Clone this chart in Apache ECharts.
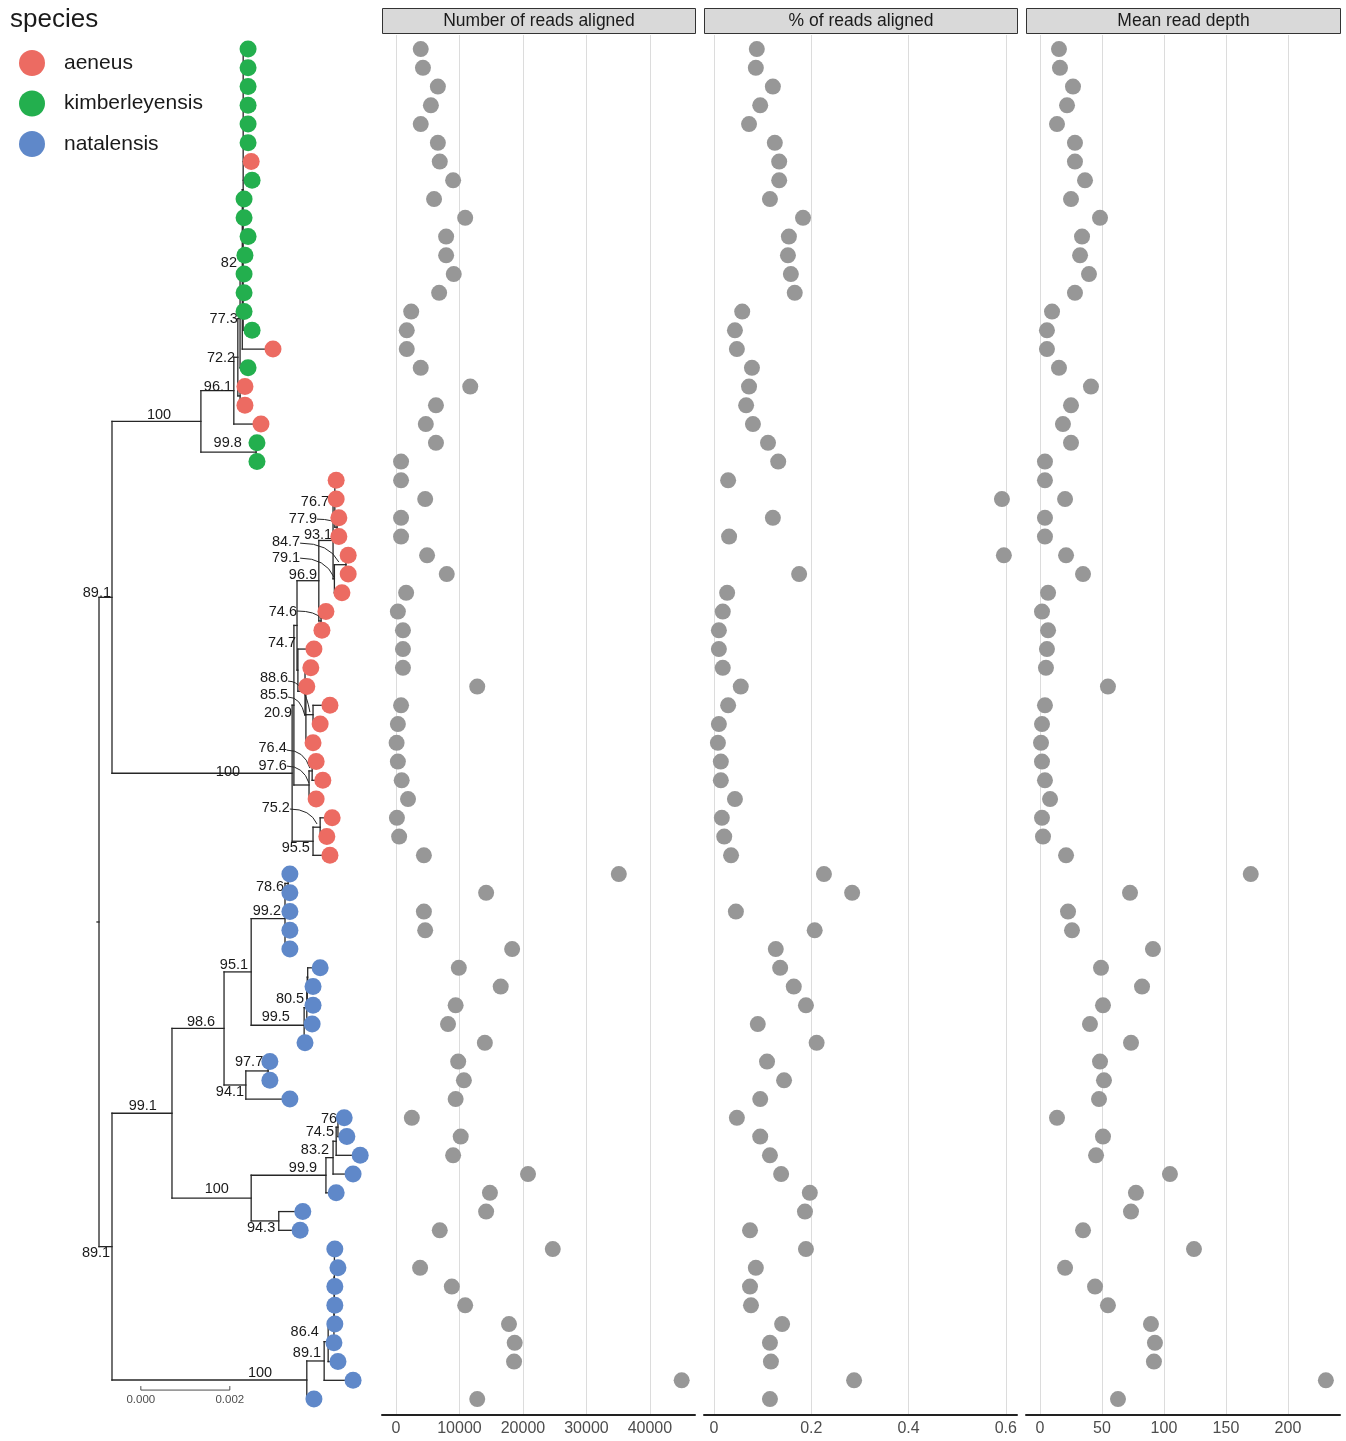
<!DOCTYPE html>
<html>
<head>
<meta charset="UTF-8">
<title>reads aligned per sample</title>
<script src="https://cdn.jsdelivr.net/npm/echarts@6/dist/echarts.min.js"></script>
<style>
  body { margin: 0; background: #fff; }
  #main { width: 1346px; height: 1441px; }
</style>
</head>
<body>
<div id="main"></div>
<script>
var FONT = '"Liberation Sans", Arial, sans-serif';

var species = ['aeneus', 'kimberleyensis', 'natalensis'];
var speciesColor = ['#EC6B62', '#23AF4E', '#5F88C9'];

// tips, top to bottom: species index
var tipSpecies = [1,1,1,1,1,1,0,1,1,1, 1,1,1,1,1,1,0,1,0,0, 0,1,1,
  0,0,0,0,0,0,0,0,0,0, 0,0,0,0,0,0,0,0,0,0, 0,
  2,2,2,2,2,2,2,2,2,2, 2,2,2,2,2,2,2,2,2,2, 2,2,2,2,2,2,2,2,2];

// distance from root, in 1e-4 substitutions/site
var tipDepth = [33.5,33.5,33.5,33.5,33.5,33.5,34.2,34.4,32.6,32.6,
  33.5,32.8,32.6,32.6,32.6,34.4,39.1,33.5,32.8,32.8,
  36.4,35.5,35.5,53.3,53.3,53.9,53.9,56.0,56.0,54.6,
  51.0,50.1,48.3,47.6,46.7,51.9,49.7,48.1,48.8,50.3,
  48.8,52.4,51.2,51.9,42.9,42.9,42.9,42.9,42.9,49.7,
  48.1,48.1,47.9,46.3,38.4,38.4,42.9,55.1,55.7,58.7,
  57.1,53.3,45.8,45.2,53.0,53.7,53.0,53.0,53.0,52.8,
  53.7,57.1,48.3];

// internal nodes: [name, depth, children]  (numbers = tips, strings = nodes)
var treeNodes = [
  ['Cg', 32.4, [0,1,2,3,4,5,6,7,8,9,10,11,12,13,14,15]],
  ['n82', 32.2, ['Cg', 16]],
  ['n77.3', 31.7, ['n82', 17]],
  ['nY', 31.7, [18, 19]],
  ['n72.2', 31.2, ['n77.3', 'nY']],
  ['n96.1', 30.3, ['n72.2', 20]],
  ['n99.8', 35.3, [21, 22]],
  ['n100a', 22.9, ['n96.1', 'n99.8']],
  ['n77.9', 53.5, [25, 26]],
  ['n76.7', 53.0, [23, 24, 'n77.9']],
  ['n84.7', 55.5, [27, 28]],
  ['n79.1', 52.9, ['n84.7', 29]],
  ['n93.1', 52.6, ['n76.7', 'n79.1']],
  ['n74.6', 49.9, [30, 31]],
  ['n96.9', 49.4, ['n93.1', 'n74.6']],
  ['n88.6', 48.1, [35, 36]],
  ['n85.5', 46.5, [34, 'n88.6', 37]],
  ['n20.9', 46.3, [33, 'n85.5']],
  ['nU', 44.7, [32, 'n20.9']],
  ['n74.7', 44.5, ['n96.9', 'nU']],
  ['n76.4', 47.9, [38, 39]],
  ['n97.6', 47.2, ['n76.4', 40]],
  ['nW', 43.8, ['n74.7', 'n97.6']],
  ['n75.2', 49.7, [41, 42]],
  ['n95.5', 48.1, ['n75.2', 43]],
  ['n100red', 43.4, ['nW', 'n95.5']],
  ['n78.6', 42.5, [44, 45]],
  ['n99.2', 41.8, ['n78.6', 46, 47, 48]],
  ['nC', 46.9, [49, 50]],
  ['nB', 46.8, ['nC', 51]],
  ['n80.5', 46.7, ['nB', 52]],
  ['n99.5', 46.1, ['n80.5', 53]],
  ['n95.1', 34.2, ['n99.2', 'n99.5']],
  ['n97.7', 38.0, [54, 55]],
  ['n94.1', 33.0, ['n97.7', 56]],
  ['n98.6', 28.1, ['n95.1', 'n94.1']],
  ['n76', 53.7, [57, 58]],
  ['n74.5', 53.3, ['n76', 59]],
  ['n83.2', 52.6, ['n74.5', 60]],
  ['n99.9', 51.0, ['n83.2', 61]],
  ['n94.3', 40.4, [62, 63]],
  ['n100b', 34.2, ['n99.9', 'n94.3']],
  ['n99.1', 16.4, ['n98.6', 'n100b']],
  ['L4', 52.9, [64, 65, 66, 67]],
  ['L3', 52.85, ['L4', 68]],
  ['L2', 52.8, ['L3', 69]],
  ['L1', 51.5, ['L2', 70]],
  ['n86.4', 50.6, ['L1', 71]],
  ['n89.1b', 46.7, ['n86.4', 72]],
  ['nBot', 2.92, ['n99.1', 'n89.1b']],
  ['nTop', 2.92, ['n100a', 'n100red']],
  ['root', 0, ['nTop', 'nBot']]
];

// bootstrap labels: [text, right end (depth), row]
var bootLabels = [
  ['82', 31.0, 11.41], ['77.3', 31.2, 14.4], ['72.2', 30.6, 16.48], ['96.1', 29.9, 18.03],
  ['100', 16.2, 19.52], ['99.8', 32.1, 21.01], ['89.1', 2.7, 29.01], ['100', 31.7, 38.56],
  ['76.7', 51.7, 24.16], ['77.9', 49.0, 25.07], ['93.1', 52.4, 25.92], ['84.7', 45.2, 26.29],
  ['79.1', 45.2, 27.15], ['96.9', 49.0, 28.05], ['74.6', 44.5, 30.03], ['74.7', 44.3, 31.68],
  ['88.6', 42.5, 33.55], ['85.5', 42.5, 34.45], ['20.9', 43.4, 35.41], ['76.4', 42.2, 37.28],
  ['97.6', 42.2, 38.24], ['75.2', 42.9, 40.48], ['95.5', 47.4, 42.61], ['78.6', 41.6, 44.69],
  ['99.2', 40.9, 45.97], ['95.1', 33.5, 48.85], ['80.5', 46.1, 50.67], ['99.5', 42.9, 51.63],
  ['98.6', 26.1, 51.89], ['97.7', 36.9, 54.03], ['94.1', 32.6, 55.63], ['99.1', 13.0, 56.37],
  ['76', 53.5, 57.07], ['74.5', 52.8, 57.76], ['83.2', 51.7, 58.72], ['99.9', 49.0, 59.68],
  ['100', 29.2, 60.8], ['94.3', 39.6, 62.88], ['89.1', 2.5, 64.21], ['86.4', 49.4, 68.43],
  ['89.1', 49.9, 69.55], ['100', 38.9, 70.61]
];

// leader curves from label to node: [x1, y1, x2, y2]
var leaders = [
  [49.0, 25.07, 53.9, 25.39], [45.2, 26.35, 53.9, 27.36], [45.2, 27.15, 52.8, 28.16],
  [44.5, 29.97, 50.1, 30.4], [42.5, 33.71, 47.4, 35.36], [42.5, 34.56, 46.3, 35.57],
  [42.2, 37.39, 47.4, 38.35], [42.2, 38.24, 47.2, 39.15], [42.9, 40.53, 49.0, 41.33]
];

var scaleBarFrom = 9.4, scaleBarLen = 20, scaleBarRow = 71.52;
var scaleBarLabels = ['0.000', '0.002'];

var readsAligned = [3900,4250,6600,5500,3900,6600,6900,9000,6000,10900,
  7900,7900,9100,6800,2400,1700,1700,3900,11700,6300,
  4700,6300,800,800,4600,800,800,4900,8000,1600,
  300,1100,1100,1100,12800,800,300,100,300,900,
  1900,150,500,4400,35100,14200,4400,4600,18300,9900,
  16500,9400,8200,14000,9800,10700,9400,2500,10200,9000,
  20800,14800,14200,6900,24700,3800,8800,10900,17800,18700,
  18600,45000,12800];

var pctAligned = [0.088,0.086,0.121,0.095,0.072,0.125,0.134,0.134,0.115,0.183,
  0.154,0.152,0.158,0.166,0.058,0.043,0.047,0.078,0.072,0.066,
  0.080,0.111,0.132,0.029,0.592,0.121,0.031,0.596,0.175,0.027,
  0.018,0.010,0.010,0.018,0.055,0.029,0.010,0.008,0.014,0.014,
  0.043,0.016,0.021,0.035,0.226,0.284,0.045,0.207,0.127,0.136,
  0.164,0.189,0.090,0.211,0.109,0.144,0.095,0.047,0.095,0.115,
  0.138,0.197,0.187,0.074,0.189,0.086,0.074,0.076,0.140,0.115,
  0.117,0.288,0.115];

var meanDepth = [15.3,16.1,26.6,21.8,13.7,28.2,28.2,36.3,25,48.4,
  33.9,32.3,39.5,28.2,9.7,5.6,5.6,15.3,41.1,25,
  18.5,25,4,4,20.2,4,4,21,34.7,6.5,
  1.6,6.5,5.6,4.8,54.8,4,1.6,0.8,1.6,4,
  8.1,1.6,2.4,21,170,72.6,22.6,25.8,91.1,49.2,
  82.3,50.8,40.3,73.4,48.4,51.6,47.6,13.7,50.8,45.2,
  104.8,77.4,73.4,34.7,124.2,20.2,44.4,54.8,89.5,92.7,
  91.9,230.6,62.9];

var facetTitles = ['Number of reads aligned', '% of reads aligned', 'Mean read depth'];
var facetData = [readsAligned, pctAligned, meanDepth];

// ---- layout ----
var plotTop = 35, plotH = 1380;
var rowMin = -0.75, rowMax = 72.85;
var facetLeft = [382, 704, 1026], facetWidth = [313, 313, 314];
var facetMin = [-2200, -0.0206, -11.3], facetMax = [47100, 0.623, 242];
var facetSplit = [5, 3, 5];

// ---- tree layout ----
var nodeMap = {};
treeNodes.forEach(function (n) { nodeMap[n[0]] = { depth: n[1], children: n[2] }; });
var yMemo = {};
function yOf(c) {
  if (typeof c === 'number') return c;
  if (yMemo[c] !== undefined) return yMemo[c];
  var ch = nodeMap[c].children, s = 0;
  ch.forEach(function (k) { s += yOf(k); });
  yMemo[c] = s / ch.length;
  return yMemo[c];
}
function depthOf(c) { return typeof c === 'number' ? tipDepth[c] : nodeMap[c].depth; }

var segments = [];
treeNodes.forEach(function (n) {
  var d = n[1], ys = n[2].map(yOf);
  segments.push([d, Math.min.apply(null, ys), d, Math.max.apply(null, ys)]);
  n[2].forEach(function (c) { segments.push([d, yOf(c), depthOf(c), yOf(c)]); });
});
segments.push([-0.45, yOf('root'), 0, yOf('root')]);

var tipSeries = species.map(function (sp, si) {
  var pts = [];
  tipSpecies.forEach(function (s, i) { if (s === si) pts.push([tipDepth[i], i]); });
  return {
    name: sp, type: 'scatter', xAxisIndex: 0, yAxisIndex: 0,
    symbolSize: 17, itemStyle: { color: speciesColor[si], opacity: 1 },
    data: pts, z: 5, silent: true
  };
});

var grids = [{ left: 0, top: plotTop, width: 380, height: plotH }];
var xAxes = [{ gridIndex: 0, type: 'value', min: -22.25, max: 63.15, show: false }];
var yAxes = [{ gridIndex: 0, type: 'value', min: rowMin, max: rowMax, inverse: true, show: false }];
var facetSeries = [];
var graphics = [];

facetTitles.forEach(function (t, i) {
  grids.push({ left: facetLeft[i], top: plotTop, width: facetWidth[i], height: plotH });
  xAxes.push({
    gridIndex: i + 1, type: 'value', min: facetMin[i], max: facetMax[i], splitNumber: facetSplit[i],
    axisLine: { show: true, onZero: false, lineStyle: { color: '#222', width: 2 } },
    axisTick: { show: false },
    axisLabel: {
      color: '#4d4d4d', fontSize: 16, fontFamily: FONT, margin: 6,
      showMinLabel: false, showMaxLabel: false,
      formatter: function (v) { return String(+v.toFixed(4)); }
    },
    splitLine: { show: true, showMinLine: false, showMaxLine: false, lineStyle: { color: '#dcdcdc', width: 1 } }
  });
  yAxes.push({ gridIndex: i + 1, type: 'value', min: rowMin, max: rowMax, inverse: true, show: false });
  facetSeries.push({
    type: 'scatter', xAxisIndex: i + 1, yAxisIndex: i + 1, symbolSize: 16, silent: true,
    itemStyle: { color: '#979797', opacity: 1 },
    data: facetData[i].map(function (v, r) { return [v, r]; })
  });
  graphics.push({
    type: 'group', left: facetLeft[i], top: 8,
    children: [
      { type: 'rect', shape: { x: 0, y: 0, width: facetWidth[i], height: 25 },
        style: { fill: '#d9d9d9', stroke: '#333', lineWidth: 1 } },
      { type: 'text', x: facetWidth[i] / 2, y: 13,
        style: { text: t, fill: '#1a1a1a', font: '17.5px ' + FONT, align: 'center', verticalAlign: 'middle' } }
    ]
  });
});

var myChart = echarts.init(document.getElementById('main'));
myChart.setOption({
  animation: false,
  backgroundColor: '#fff',
  title: { text: 'species', left: 5, top: 2, textStyle: { fontSize: 26, fontWeight: 'normal', color: '#1a1a1a', fontFamily: FONT } },
  legend: {
    data: species, orient: 'vertical', left: 14, top: 45, icon: 'circle',
    itemWidth: 26, itemHeight: 26, itemGap: 14.5, selectedMode: false,
    textStyle: { fontSize: 21, color: '#1a1a1a', fontFamily: FONT, padding: [0, 0, 0, 14] }
  },
  grid: grids,
  xAxis: xAxes,
  yAxis: yAxes,
  graphic: graphics,
  series: [
    {
      type: 'custom', xAxisIndex: 0, yAxisIndex: 0, silent: true, z: 2,
      encode: { x: [0, 2], y: [1, 3] },
      data: segments,
      renderItem: function (params, api) {
        var a = api.coord([api.value(0), api.value(1)]);
        var b = api.coord([api.value(2), api.value(3)]);
        return { type: 'line', shape: { x1: a[0], y1: a[1], x2: b[0], y2: b[1] },
          style: { stroke: '#262626', lineWidth: 1.3, lineCap: 'square' } };
      }
    },
    {
      type: 'custom', xAxisIndex: 0, yAxisIndex: 0, silent: true, z: 2,
      encode: { x: [0, 2], y: [1, 3] },
      data: leaders,
      renderItem: function (params, api) {
        var a = api.coord([api.value(0), api.value(1)]);
        var b = api.coord([api.value(2), api.value(3)]);
        return { type: 'bezierCurve',
          shape: { x1: a[0], y1: a[1], x2: b[0], y2: b[1], cpx1: a[0] + (b[0] - a[0]) * 0.75, cpy1: a[1] },
          style: { stroke: '#262626', lineWidth: 1, fill: null } };
      }
    },
    {
      type: 'custom', xAxisIndex: 0, yAxisIndex: 0, silent: true, z: 3,
      encode: { x: 0, y: 1 },
      data: bootLabels.map(function (l) { return [l[1], l[2]]; }),
      renderItem: function (params, api) {
        var p = api.coord([api.value(0), api.value(1)]);
        return { type: 'text', x: p[0], y: p[1],
          style: { text: bootLabels[params.dataIndex][0], fill: '#1a1a1a', font: '14.5px ' + FONT,
            align: 'right', verticalAlign: 'middle' } };
      }
    },
    {
      type: 'custom', xAxisIndex: 0, yAxisIndex: 0, silent: true, z: 3,
      encode: { x: [0, 2], y: 1 },
      data: [[scaleBarFrom, scaleBarRow, scaleBarFrom + scaleBarLen]],
      renderItem: function (params, api) {
        var a = api.coord([api.value(0), api.value(1)]);
        var b = api.coord([api.value(2), api.value(1)]);
        var st = { stroke: '#4d4d4d', lineWidth: 1 };
        var tf = '11.5px ' + FONT;
        return { type: 'group', children: [
          { type: 'line', shape: { x1: a[0], y1: a[1], x2: b[0], y2: b[1] }, style: st },
          { type: 'line', shape: { x1: a[0], y1: a[1], x2: a[0], y2: a[1] - 4 }, style: st },
          { type: 'line', shape: { x1: b[0], y1: b[1], x2: b[0], y2: b[1] - 4 }, style: st },
          { type: 'text', x: a[0], y: a[1] + 4, style: { text: scaleBarLabels[0], fill: '#4d4d4d', font: tf, align: 'center', verticalAlign: 'top' } },
          { type: 'text', x: b[0], y: b[1] + 4, style: { text: scaleBarLabels[1], fill: '#4d4d4d', font: tf, align: 'center', verticalAlign: 'top' } }
        ] };
      }
    }
  ].concat(tipSeries).concat(facetSeries)
});
</script>
</body>
</html>
